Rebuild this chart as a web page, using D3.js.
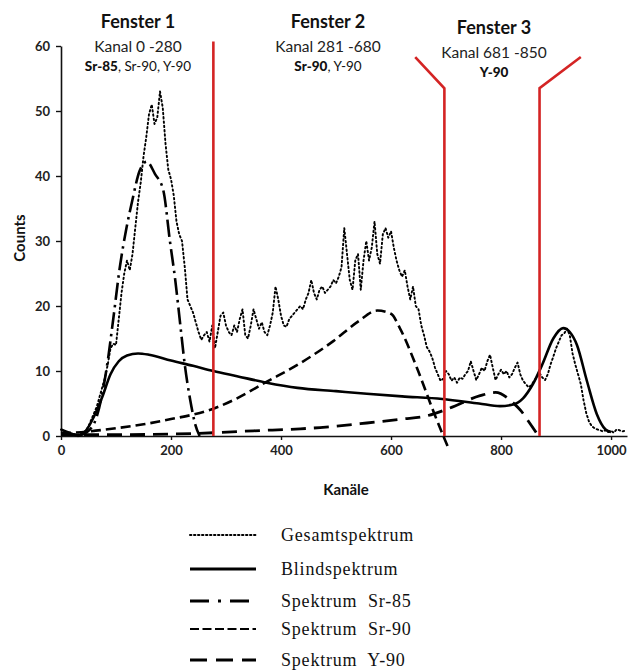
<!DOCTYPE html>
<html><head><meta charset="utf-8">
<script src="https://cdn.jsdelivr.net/npm/d3@7"></script>
<style>
html,body{margin:0;padding:0;background:#fff;}
svg{display:block;}
</style></head>
<body>
<svg id="chart" width="630" height="670"></svg>
<script>
// ---------- DATA ----------
const xTicks = [0, 200, 400, 600, 800, 1000];
const yTicks = [0, 10, 20, 30, 40, 50, 60];

// Gesamtspektrum, every 5 channels from 0
const totalStep = 5;
const totalCounts = [
 1.0,0.8,0.5,0.3,0.2,0.3,0.2,0.5,0.4,0.8,
 1.5,2.5,3.5,4.5,6,7.5,9,11,13.5,14.2,
 14,18,22,25,27,25.5,28,32,36,39,
 43,46,49.5,51,48,49,53,50.5,45,41,
 39.5,37,33,31,30,26,21,20,19,17.5,
 16,14.8,15.5,16,14.5,17,13.5,16,18.5,19,
 17,16,15.5,17,16,18,19.5,15.5,15,17,
 19.5,18,16.5,17.5,16,15.5,17,19,23,21,
 18.5,17,16.8,18,18.5,19,19.5,20,19.5,21,
 22,24,22,21,22.5,23,22,22.5,23,24,
 23.5,24.5,26,32,28,24,22.5,27,28,22.5,
 27,30,27,29,33,28,26.5,31,32,30.5,
 31.5,29,27,25.5,24.5,25.5,23,21,23,20,
 19.5,17,15.5,13.7,13,12,10.5,9.5,8.5,8.8,
 10,9.5,8.5,9,8.2,9,8.8,9.5,10,11.5,
 10,8.6,9.5,10.5,10,11.5,12.5,10.5,8.6,9.5,
 10.2,9.5,10,9,9.5,10.5,11.3,9.5,8.5,8,
 7.5,7.8,8.5,9,9.7,9,8.6,9.5,11,12.2,
 13.5,14.5,15.5,15.8,16.5,15.5,12.7,11,9.5,8,
 5.5,3.5,2.2,1.5,1.2,1,0.9,0.7,0.9,0.6,
 0.8,0.5,1,0.9,0.7,0.8
];

// Blindspektrum
const blindCh  = [0,15,30,45,60,75,90,105,120,140,160,200,240,277,320,374,430,500,556,620,693,760,798,820,840,858,875,895,913,925,938,956,974,990,1000];
const blindVal = [1.0,0.5,0.1,0.8,3.0,6.0,9.5,11.5,12.4,12.7,12.5,11.6,10.8,10.0,9.2,8.2,7.4,6.9,6.5,6.1,5.7,5.0,4.6,4.8,5.8,8.0,11.0,15.0,16.6,16.0,14.0,8.5,3.4,1.0,0.6];

// Spektrum Sr-85
const sr85Ch  = [30,50,65,75,84,95,107,119,129,143,156,171,186,198,208,217,225,235,244,252];
const sr85Val = [0,0.8,3,6.5,11,18,26,32,36,40.8,42.2,40.3,37.8,30,23.8,17,11,5.5,1.8,0];

// Spektrum Sr-90
const sr90Ch  = [0,50,100,150,200,240,277,320,371,435,495,540,575,600,616,647,677,695,703];
const sr90Val = [0.4,0.7,1.2,1.8,2.6,3.3,4.2,5.8,8.2,11.2,14.6,17.6,19.3,18.8,16.6,10.5,3.8,0,-1.6];

// Spektrum Y-90
const y90Ch  = [0,100,200,277,350,435,471,556,620,665,707,762,790,822,836,852,868];
const y90Val = [0.2,0.2,0.3,0.5,0.8,1.1,1.3,2.0,2.6,3.1,4.3,6.2,6.7,5.1,3.9,2.0,0];

// window separators (channel, counts)
const sep1Ch = [277, 277],      sep1Val = [0, 60.7];
const sep2Ch = [697, 697, 644], sep2Val = [0, 53.5, 58.3];
const sep3Ch = [870, 870, 945], sep3Val = [0, 53.5, 58.3];

const windowTitles = ["Fenster 1", "Fenster 2", "Fenster 3"];
const windowRanges = ["Kanal 0 -280", "Kanal 281 -680", "Kanal 681 -850"];
const windowNuclides = [
  [["Sr-85", true], [", Sr-90, Y-90", false]],
  [["Sr-90", true], [", Y-90", false]],
  [["Y-90", true]]
];

const legendLabels = ["Gesamtspektrum", "Blindspektrum", "Spektrum  Sr-85", "Spektrum  Sr-90", "Spektrum  Y-90"];

// ---------- CHART ----------
const svg = d3.select("#chart");
const x = d3.scaleLinear().domain([0, 1029]).range([61, 627]);
const y = d3.scaleLinear().domain([0, 60]).range([436, 46]);

const fontSans = "Lato, 'Open Sans', sans-serif";
const red = "#d42424";

// axes
const gx = svg.append("g").attr("transform", `translate(0,${y(0)})`)
  .call(d3.axisBottom(x).tickValues(xTicks).tickFormat(d3.format("d"))
    .tickSize(4).tickPadding(6).tickSizeOuter(0));
const gy = svg.append("g").attr("transform", `translate(${x(0)},0)`)
  .call(d3.axisLeft(y).tickValues(yTicks).tickFormat(d3.format("d"))
    .tickSize(5).tickPadding(6).tickSizeOuter(0));
[gx, gy].forEach(g => {
  g.select(".domain").attr("stroke", "#111").attr("stroke-width", 1.6);
  g.selectAll(".tick line").attr("stroke", "#111").attr("stroke-width", 1.4);
  g.selectAll("text").attr("font-family", fontSans).attr("font-size", 13)
    .attr("font-weight", "bold").attr("fill", "#222");
});

svg.append("text").attr("transform", `translate(25,238) rotate(-90)`)
  .attr("text-anchor", "middle").attr("font-family", fontSans)
  .attr("font-size", 15).attr("font-weight", "bold").attr("fill", "#111").text("Counts");
svg.append("text").attr("x", 346).attr("y", 495)
  .attr("text-anchor", "middle").attr("font-family", fontSans)
  .attr("font-size", 15).attr("font-weight", "bold").attr("fill", "#111").text("Kanäle");

const zipPts = (cs, vs) => cs.map((c, i) => [c, vs[i]]);
const smooth = d3.line().x(d => x(d[0])).y(d => y(d[1])).curve(d3.curveMonotoneX);
const straight = d3.line().x(d => x(d[0])).y(d => y(d[1]));

const styles = {
  total: {dash: "1.5,2.8", w: 1.9, cap: "round"},
  blind: {dash: null, w: 2.6, cap: "butt"},
  sr85:  {dash: "17,5,2.5,5", w: 2.6, cap: "butt"},
  sr90:  {dash: "10,5", w: 2.6, cap: "butt"},
  y90:   {dash: "15,8", w: 2.8, cap: "butt"}
};

function drawPath(pts, st, gen) {
  const p = svg.append("path").datum(pts).attr("d", gen)
    .attr("fill", "none").attr("stroke", "#000").attr("stroke-width", st.w)
    .attr("stroke-linecap", st.cap).attr("stroke-linejoin", "round");
  if (st.dash) p.attr("stroke-dasharray", st.dash);
  return p;
}

const totalPts = totalCounts.map((v, i) => [i * totalStep, v]);
drawPath(zipPts(y90Ch, y90Val), styles.y90, smooth);
drawPath(zipPts(sr90Ch, sr90Val), styles.sr90, smooth);
drawPath(zipPts(sr85Ch, sr85Val), styles.sr85, smooth);
drawPath(zipPts(blindCh, blindVal), styles.blind, smooth);
drawPath(totalPts, styles.total, straight);

// separators
[[sep1Ch, sep1Val], [sep2Ch, sep2Val], [sep3Ch, sep3Val]].forEach(([c, v]) => {
  svg.append("path").datum(zipPts(c, v)).attr("d", straight)
    .attr("fill", "none").attr("stroke", red).attr("stroke-width", 2.6)
    .attr("stroke-linejoin", "miter");
});

// window annotations
const winCenters = [138, 328, 494];
const winTops = [0, 0, 6];
windowTitles.forEach((t, i) => {
  const cx = winCenters[i], dy = winTops[i];
  svg.append("text").attr("x", cx).attr("y", 28 + dy).attr("text-anchor", "middle")
    .attr("font-family", fontSans).attr("font-size", 18).attr("font-weight", "bold")
    .attr("fill", "#111").text(t);
  svg.append("text").attr("x", cx).attr("y", 52 + dy).attr("text-anchor", "middle")
    .attr("font-family", fontSans).attr("font-size", 15.5).attr("fill", "#222")
    .text(windowRanges[i]);
  const tx = svg.append("text").attr("x", cx).attr("y", 71 + dy).attr("text-anchor", "middle")
    .attr("font-family", fontSans).attr("font-size", 13.5).attr("fill", "#111");
  windowNuclides[i].forEach(([s, b]) => {
    tx.append("tspan").attr("font-weight", b ? "900" : "normal").text(s);
  });
});

// legend
const legX1 = 190, legX2 = 256, legTextX = 281;
const legRows = [535, 569, 601, 629, 660];
const legStyles = [
  {dash: "1.4,2.6", w: 2.0, cap: "round"},
  {dash: null, w: 3, cap: "butt"},
  {dash: "19,9,3,9", w: 3, cap: "butt"},
  {dash: "9,3.5", w: 2.2, cap: "butt"},
  {dash: "17,9", w: 3.2, cap: "butt"}
];
legendLabels.forEach((lab, i) => {
  const st = legStyles[i];
  const ln = svg.append("line").attr("x1", legX1).attr("x2", legX2)
    .attr("y1", legRows[i]).attr("y2", legRows[i])
    .attr("stroke", "#000").attr("stroke-width", st.w).attr("stroke-linecap", st.cap);
  if (st.dash) ln.attr("stroke-dasharray", st.dash);
  svg.append("text").attr("x", legTextX).attr("y", legRows[i] + 6)
    .attr("font-family", "'Liberation Serif', 'Times New Roman', serif")
    .attr("font-size", 18).attr("letter-spacing", 0.8).attr("fill", "#111")
    .attr("xml:space", "preserve").style("white-space", "pre").text(lab);
});
</script>
</body></html>
